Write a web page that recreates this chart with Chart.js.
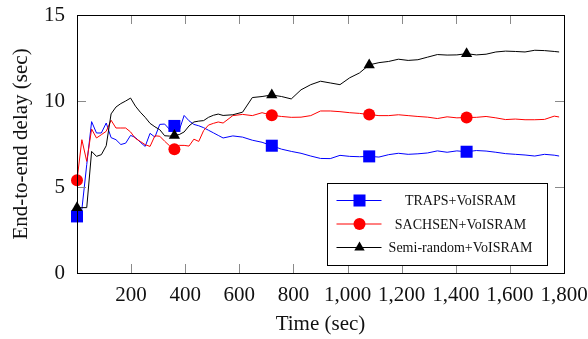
<!DOCTYPE html>
<html>
<head>
<meta charset="utf-8">
<script src="https://cdn.jsdelivr.net/npm/chart.js@4.4.1/dist/chart.umd.min.js"></script>
<style>
html, body { margin: 0; padding: 0; background: #fff; }
#wrap { width: 588px; height: 339px; }
</style>
</head>
<body>
<div id="wrap"><canvas id="delayChart" width="588" height="339"></canvas></div>
<script>
// ===== DATA =====
const timeSec = [0, 18, 36, 54, 72, 90, 108, 126, 144, 162, 180, 198, 216, 234, 252, 270, 288, 306, 324, 342,
    360, 378, 396, 414, 432, 450, 468, 486, 504, 522, 540,
    576, 612, 648, 684, 720, 756, 792, 828, 864, 900, 936, 972, 1008, 1044, 1080, 1116, 1152, 1188, 1224,
    1260, 1296, 1332, 1368, 1404, 1440, 1476, 1512, 1548, 1584, 1620, 1656, 1692, 1728, 1764, 1782];

const trapsDelay = [3.29, 3.7, 6.3, 8.8, 8.14, 8.14, 8.72, 7.87, 7.75, 7.47, 7.55, 8.0, 7.88, 7.6, 7.36, 8.12, 7.9, 8.64, 8.66, 8.35,
    8.55, 8.3, 9.16, 8.85, 8.64, 8.56, 8.45, 8.3, 8.15, 8.0, 7.85,
    7.97, 7.9, 7.72, 7.6, 7.4, 7.2, 7.07, 6.96, 6.8, 6.66, 6.65, 6.84, 6.78, 6.76, 6.78, 6.74, 6.88, 6.96, 6.9,
    6.93, 6.98, 7.1, 7.02, 7.1, 7.05, 7.12, 7.09, 7.02, 6.94, 6.9, 6.86, 6.8, 6.9, 6.85, 6.8];

const sachsenDelay = [5.39, 7.75, 6.49, 8.37, 7.85, 8.04, 8.24, 8.88, 8.43, 8.43, 8.43, 8.2, 7.82, 7.65, 7.46, 7.36, 7.98, 7.95, 7.66, 7.4,
    7.2, 7.42, 7.42, 7.38, 7.78, 7.65, 8.28, 8.6, 8.7, 8.78, 8.72,
    9.15, 9.22, 9.15, 9.32, 9.17, 9.1, 9.05, 9.06, 9.15, 9.42, 9.42, 9.38, 9.32, 9.28, 9.21, 9.15, 9.15, 9.2, 9.15,
    9.1, 9.06, 8.98, 9.08, 9.02, 9.04, 9.05, 9.1, 9.02, 8.92, 8.95, 8.91, 8.91, 8.93, 9.12, 9.07];

const semiRandomDelay = [3.8, 3.8, 3.8, 7.07, 6.78, 6.88, 7.4, 9.25, 9.65, 9.85, 10.0, 10.17, 9.7, 9.35, 9.05, 8.7, 8.5, 8.33, 7.98, 7.96,
    8.0, 8.05, 8.2, 8.55, 8.78, 8.83, 8.86, 9.05, 9.17, 9.24, 9.16,
    9.2, 9.35, 10.2, 10.26, 10.35, 10.26, 10.12, 10.65, 10.95, 11.15, 11.05, 10.95, 11.35, 11.63, 12.1, 12.23, 12.3, 12.43, 12.36,
    12.4, 12.55, 12.7, 12.67, 12.68, 12.75, 12.68, 12.72, 12.85, 12.9, 12.88, 12.85, 12.95, 12.93, 12.88, 12.85];

const markTimes = [0, 360, 720, 1080, 1440];
const seriesLabels = ['TRAPS+VoISRAM', 'SACHSEN+VoISRAM', 'Semi-random+VoISRAM'];
const xTicks = [0, 200, 400, 600, 800, 1000, 1200, 1400, 1600, 1800];
const yTicks = [0, 5, 10, 15];

const SERIF = "'Liberation Serif', 'DejaVu Serif', serif";

function toPoints(values) {
    return values.map((v, i) => ({ x: timeSec[i], y: v }));
}

function markerRadius(r) {
    return ctx => (ctx.raw && markTimes.includes(ctx.raw.x)) ? r : 0;
}

function makeSeries(label, values, color, style, r, order) {
    return {
        label,
        data: toPoints(values),
        borderColor: color,
        backgroundColor: color,
        borderWidth: 1,
        pointStyle: style,
        pointRadius: markerRadius(r),
        pointHoverRadius: markerRadius(r),
        pointBorderWidth: 0,
        tension: 0,
        clip: false,
        order
    };
}

// inward tick marks, frame and the boxed legend
const framePlugin = {
    id: 'frame',
    afterDatasetsDraw(chart) {
        const { ctx, chartArea: a, scales } = chart;
        const len = 9;
        ctx.save();
        ctx.strokeStyle = '#8a8a8a';
        ctx.lineWidth = 1;
        ctx.beginPath();
        xTicks.forEach(t => {
            const px = Math.round(scales.x.getPixelForValue(t)) + 0.5;
            ctx.moveTo(px, a.bottom); ctx.lineTo(px, a.bottom - len);
            ctx.moveTo(px, a.top); ctx.lineTo(px, a.top + len);
        });
        yTicks.forEach(t => {
            const py = Math.round(scales.y.getPixelForValue(t)) + 0.5;
            ctx.moveTo(a.left, py); ctx.lineTo(a.left + len, py);
            ctx.moveTo(a.right, py); ctx.lineTo(a.right - len, py);
        });
        ctx.stroke();

        ctx.strokeStyle = '#000';
        ctx.strokeRect(Math.round(a.left) + 0.5, Math.round(a.top) + 0.5,
            Math.round(a.right - a.left), Math.round(a.bottom - a.top));

        // legend box
        const bx = 327.5, by = 183.5, bw = 220, bh = 82;
        ctx.fillStyle = '#fff';
        ctx.fillRect(bx, by, bw, bh);
        ctx.strokeStyle = '#000';
        ctx.strokeRect(bx, by, bw, bh);

        seriesLabels.forEach((label, i) => {
            const ds = chart.data.datasets.find(d => d.label === label);
            const y = by + 17 + i * 23.5;
            ctx.strokeStyle = ds.borderColor;
            ctx.lineWidth = 1;
            ctx.beginPath();
            ctx.moveTo(bx + 9, y); ctx.lineTo(bx + 54, y);
            ctx.stroke();
            ctx.fillStyle = ds.backgroundColor;
            Chart.helpers.drawPoint(ctx, {
                pointStyle: ds.pointStyle,
                radius: ds.pointStyle === 'rect' ? 8.5 : 6,
                borderWidth: 0
            }, bx + 32, y);
            ctx.fillStyle = '#111';
            ctx.font = '14px ' + SERIF;
            ctx.textAlign = 'center';
            ctx.textBaseline = 'middle';
            ctx.fillText(label, bx + 133, y + 1);
        });
        ctx.restore();
    }
};

new Chart(document.getElementById('delayChart'), {
    type: 'line',
    data: {
        datasets: [
            makeSeries(seriesLabels[0], trapsDelay, '#0000ff', 'rect', 8.5, 2),
            makeSeries(seriesLabels[1], sachsenDelay, '#ff0000', 'circle', 6, 1),
            makeSeries(seriesLabels[2], semiRandomDelay, '#000000', 'triangle', 6.5, 0)
        ]
    },
    options: {
        responsive: false,
        animation: false,
        events: [],
        layout: { padding: { top: 15, right: 24, left: 0, bottom: 0 } },
        plugins: {
            legend: { display: false },
            tooltip: { enabled: false }
        },
        scales: {
            x: {
                type: 'linear',
                min: 0,
                max: 1800,
                afterFit: s => { s.height = 66; s.paddingLeft = 0; s.paddingRight = 0; },
                afterBuildTicks: s => { s.ticks = xTicks.map(v => ({ value: v })); },
                grid: { display: false, drawTicks: false },
                border: { display: false },
                ticks: {
                    padding: 10,
                    maxRotation: 0,
                    autoSkip: false,
                    color: '#111',
                    font: { family: SERIF, size: 21 },
                    callback: v => v === 0 ? '' : v.toLocaleString('en-US')
                },
                title: {
                    display: true,
                    text: 'Time (sec)',
                    color: '#111',
                    font: { family: SERIF, size: 21 },
                    padding: { top: 0, bottom: 2 }
                }
            },
            y: {
                min: 0,
                max: 15,
                afterFit: s => { s.width = 77; s.paddingTop = 0; s.paddingBottom = 0; },
                afterBuildTicks: s => { s.ticks = yTicks.map(v => ({ value: v })); },
                grid: { display: false, drawTicks: false },
                border: { display: false },
                ticks: {
                    padding: 12,
                    color: '#111',
                    font: { family: SERIF, size: 21 }
                },
                title: {
                    display: true,
                    text: 'End-to-end delay (sec)',
                    color: '#111',
                    font: { family: SERIF, size: 21 },
                    padding: { top: 9, bottom: 0 }
                }
            }
        }
    },
    plugins: [framePlugin]
});
</script>
</body>
</html>
